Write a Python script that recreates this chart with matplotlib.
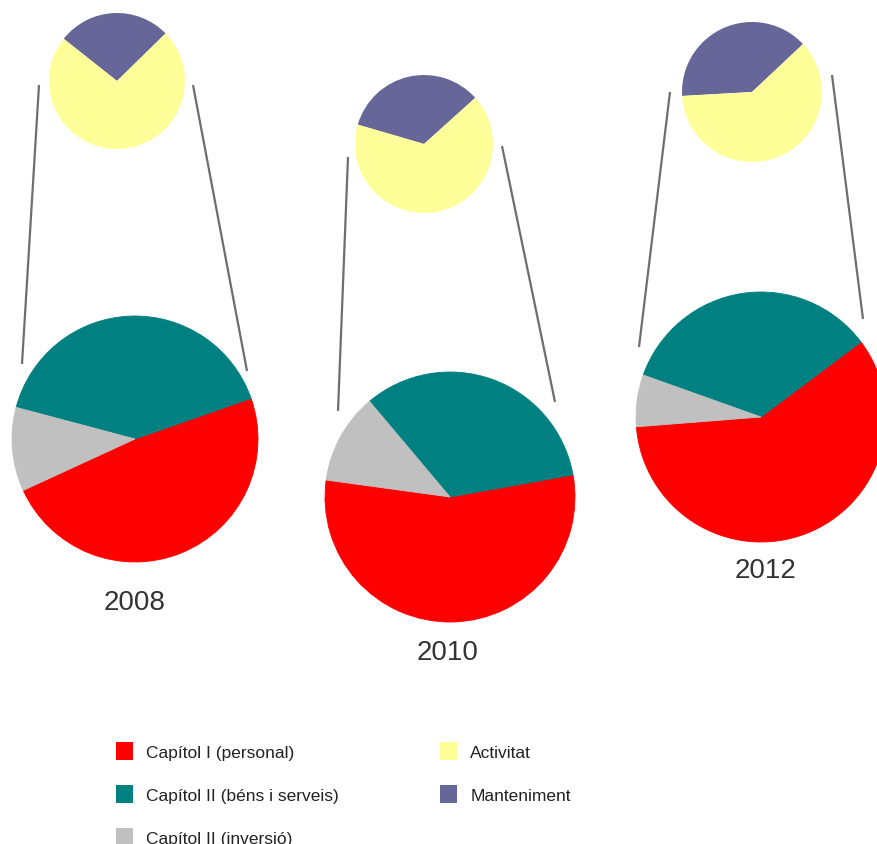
import matplotlib
matplotlib.use("Agg")
import matplotlib.pyplot as plt
from matplotlib.patches import Patch

plt.rcParams['font.family'] = ['Liberation Sans', 'DejaVu Sans']

# ---- data ----
years = ["2008", "2010", "2012"]
big_labels = ["Capítol I (personal)", "Capítol II (béns i serveis)", "Capítol II (inversió)"]
big_colors = ["#FF0000", "#008080", "#C0C0C0"]
personal = [48.5, 55.0, 59.0]
bens_serveis = [40.5, 33.3, 34.3]
inversio = [11.0, 11.7, 6.7]

small_labels = ["Manteniment", "Activitat"]
small_colors = ["#666699", "#FFFF99"]
manteniment = [27.0, 33.8, 38.9]
activitat = [73.0, 66.2, 61.1]

# ---- layout (image pixel coordinates, y downwards) ----
W, H = 877, 845
big_centers = [(135, 440), (450, 498), (761, 418)]
big_radius = [123, 125, 125]
big_start = [204.7, 172.2, 184.5]
small_centers = [(117, 82), (424, 145), (752, 93)]
small_radius = [68, 69, 70]
small_start = [44.4, 42.0, 43.2]
left_lines = [((39, 86), (22, 365)), ((348, 158), (338, 412)), ((670, 93), (639, 348))]
right_lines = [((193, 86), (247, 372)), ((502, 147), (555, 403)), ((832, 76), (863, 320))]
year_pos = [(135, 603), (448, 653), (765, 571)]

fig = plt.figure(figsize=(W / 100, H / 100), dpi=100)
ax = fig.add_axes([0, 0, 1, 1])

def fy(y):
    return H - y

for i in range(3):
    # connector lines
    for (p0, p1) in (left_lines[i], right_lines[i]):
        ax.plot([p0[0], p1[0]], [fy(p0[1]), fy(p1[1])], color="#6E6E6E",
                lw=1.6, solid_capstyle="butt", zorder=1)
    cx, cy = big_centers[i]
    ax.pie([personal[i], bens_serveis[i], inversio[i]], colors=big_colors,
           center=(cx, fy(cy)), radius=big_radius[i], startangle=big_start[i],
           counterclock=True, wedgeprops=dict(linewidth=0.6),
           normalize=True)
    sx, sy = small_centers[i]
    ax.pie([manteniment[i], activitat[i]], colors=small_colors,
           center=(sx, fy(sy)), radius=small_radius[i], startangle=small_start[i],
           counterclock=True, wedgeprops=dict(linewidth=0),
           normalize=True)
    tx, ty = year_pos[i]
    ax.text(tx, fy(ty), years[i], ha="center", va="center", fontsize=20,
            color="#333333")

# give wedges an edge of their own colour
for w in ax.patches:
    w.set_edgecolor(w.get_facecolor())

ax.set_xlim(0, W)
ax.set_ylim(0, H)
ax.set_aspect("equal")
ax.axis("off")

handles = [Patch(facecolor=c, edgecolor="none") for c in big_colors + small_colors[::-1]]
labels = big_labels + small_labels[::-1]
leg = fig.legend(handles, labels, ncol=2, loc="upper left",
                 bbox_to_anchor=(116 / W, 1 - 743 / H), frameon=False,
                 fontsize=12.5, handlelength=1.0, handleheight=1.2,
                 handletextpad=0.75, labelspacing=1.45, columnspacing=5.8,
                 borderaxespad=0, borderpad=0)
for t in leg.get_texts():
    t.set_color("#222222")

fig.savefig("out.png", dpi=100, facecolor="white")
